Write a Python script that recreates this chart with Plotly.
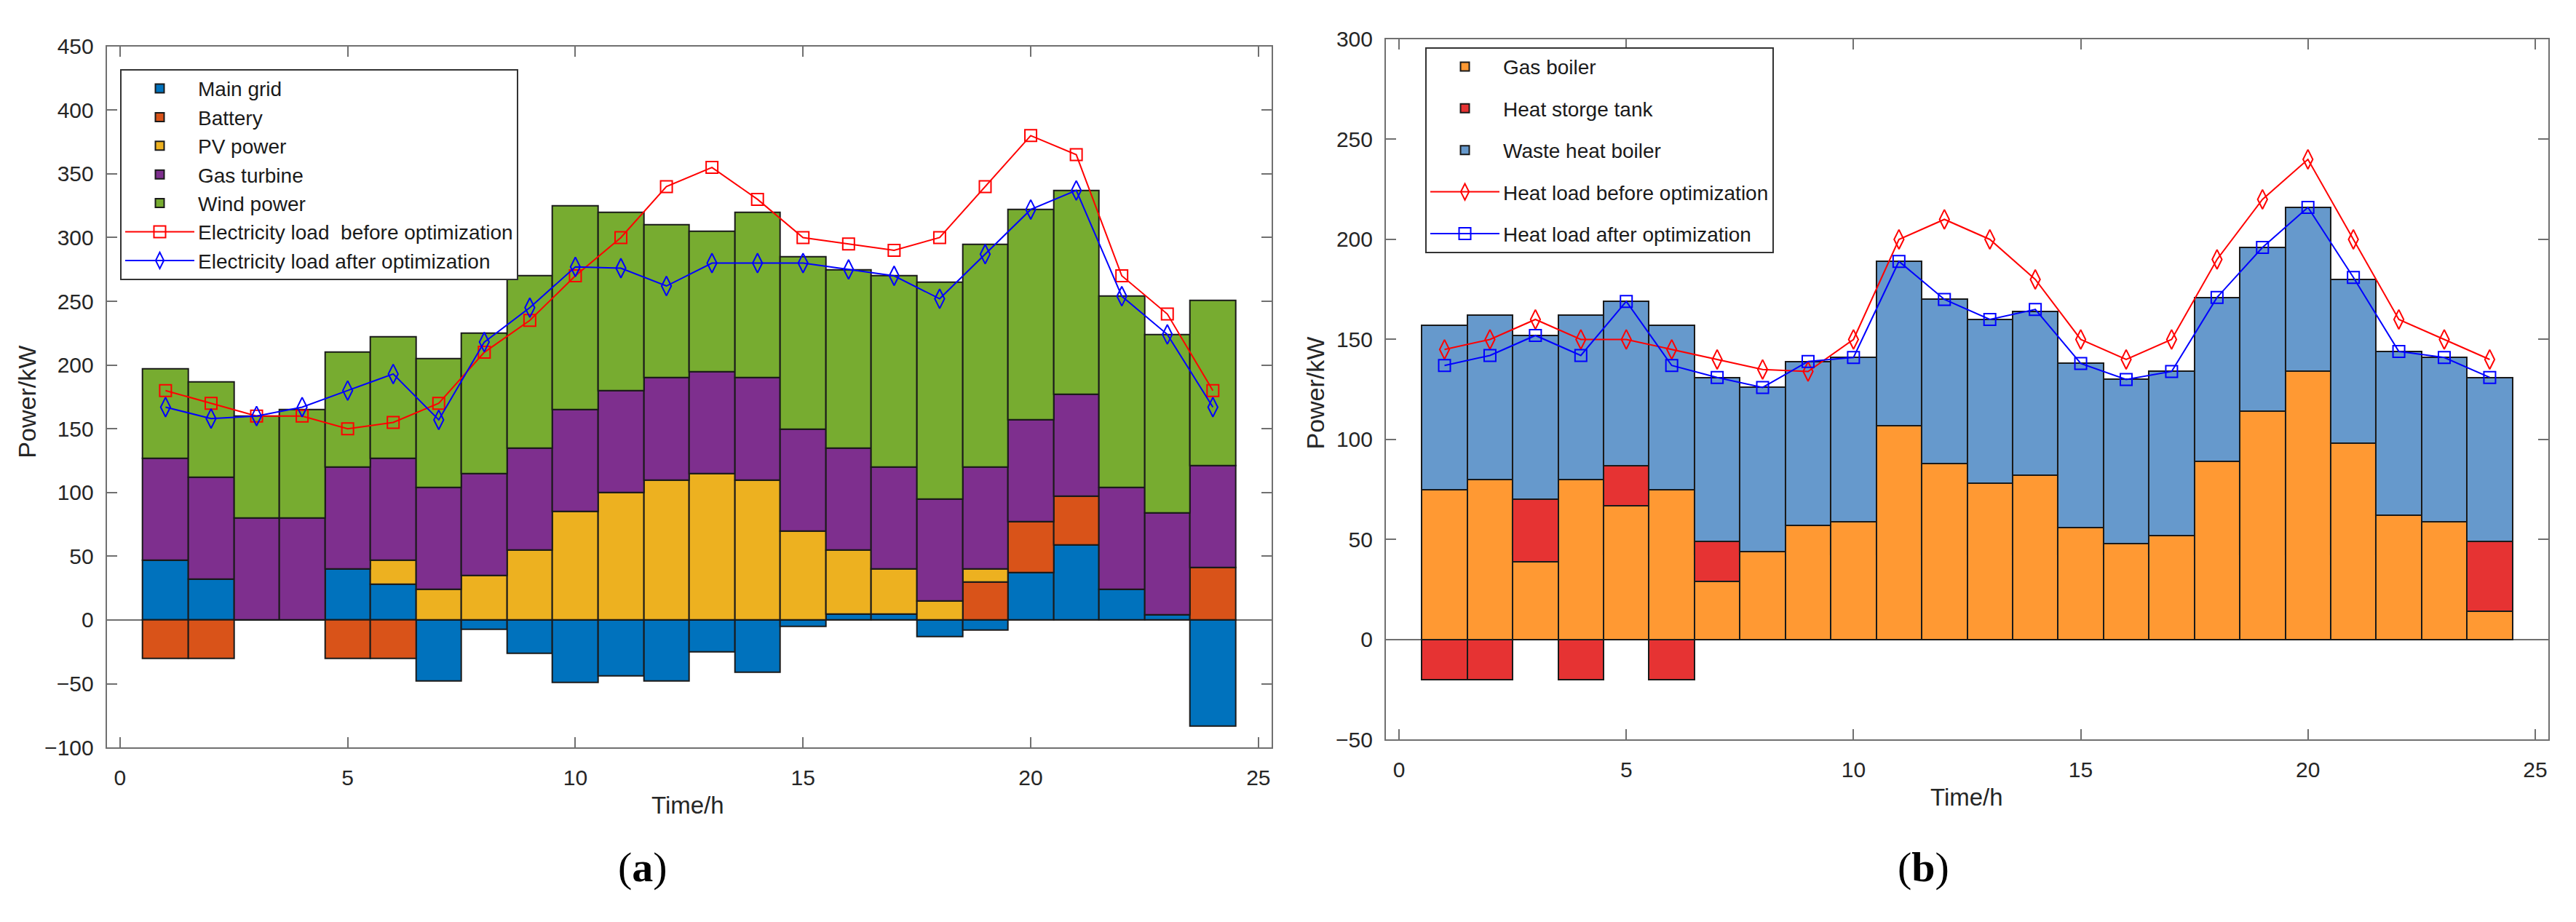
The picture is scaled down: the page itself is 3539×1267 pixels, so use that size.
import plotly.graph_objects as go

hours = list(range(1, 25))

# (a) electric power balance, kW
main_grid = [47, 32, 0, 0, 40, 28, -48, -7, -26, -49, -44, -48, -25, -41, -5, 5, 5, -13, -8, 37, 59, 24, 4, -83]
battery = [-30, -30, 0, 0, -30, -30, 0, 0, 0, 0, 0, 0, 0, 0, 0, 0, 0, 0, 30, 40, 38, 0, 0, 41]
pv_power = [0, 0, 0, 0, 0, 19, 24, 35, 55, 85, 100, 110, 115, 110, 70, 50, 35, 15, 10, 0, 0, 0, 0, 0]
gas_turbine = [80, 80, 80, 80, 80, 80, 80, 80, 80, 80, 80, 80, 80, 80, 80, 80, 80, 80, 80, 80, 80, 80, 80, 80]
wind_power = [70, 75, 80, 85, 90, 95, 101, 110, 135, 160, 140, 120, 110, 130, 135, 140, 150, 170, 175, 165, 160, 150, 140, 130]
elec_before = [180, 170, 160, 160, 150, 155, 170, 210, 235, 270, 300, 340, 355, 330, 300, 295, 290, 300, 340, 380, 365, 270, 240, 180]
elec_after = [167, 158, 160, 167, 180, 193, 157, 218, 245, 277, 276, 262, 280, 280, 280, 275, 270, 252, 287, 322, 337, 254, 224, 167]

# (b) heat power balance, kW
gas_boiler = [75, 80, 39, 80, 67, 75, 29, 44, 57, 59, 107, 88, 78, 82, 56, 48, 52, 89, 114, 134, 98, 62, 59, 14]
heat_storage = [-20, -20, 31, -20, 20, -20, 20, 0, 0, 0, 0, 0, 0, 0, 0, 0, 0, 0, 0, 0, 0, 0, 0, 35]
waste_heat = [82, 82, 82, 82, 82, 82, 82, 82, 82, 82, 82, 82, 82, 82, 82, 82, 82, 82, 82, 82, 82, 82, 82, 82]
heat_before = [145, 150, 160, 150, 150, 145, 140, 135, 134, 150, 200, 210, 200, 180, 150, 140, 150, 190, 220, 240, 200, 160, 150, 140]
heat_after = [137, 142, 152, 142, 169, 137, 131, 126, 139, 141, 189, 170, 160, 165, 138, 130, 134, 171, 196, 216, 181, 144, 141, 131]

FONT = 'Liberation Sans, Arial, sans-serif'
SERIF = 'Liberation Serif, Times New Roman, serif'
EDGE = dict(color='#1a1a1a', width=2)

fig = go.Figure()

left_bars = [('Main grid', main_grid, '#0072BD'), ('Battery', battery, '#D95319'),
             ('PV power', pv_power, '#EDB120'), ('Gas turbine', gas_turbine, '#7E2F8E'),
             ('Wind power', wind_power, '#77AC30')]
for name, vals, col in left_bars:
    fig.add_trace(go.Bar(x=hours, y=vals, name=name, width=1, marker=dict(color=col, line=EDGE),
                         xaxis='x', yaxis='y', legend='legend'))
fig.add_trace(go.Scatter(x=hours, y=elec_before, mode='lines+markers',
                         name='Electricity load \u00a0before optimization',
                         line=dict(color='#FF0000', width=2),
                         marker=dict(symbol='square-open', size=16, color='#FF0000', line=dict(width=2)),
                         xaxis='x', yaxis='y', legend='legend'))
fig.add_trace(go.Scatter(x=hours, y=elec_after, mode='lines+markers',
                         name='Electricity load after optimization',
                         line=dict(color='#0000FF', width=2),
                         marker=dict(symbol='diamond-tall-open', size=19, color='#0000FF', line=dict(width=2)),
                         xaxis='x', yaxis='y', legend='legend'))

right_bars = [('Gas boiler', gas_boiler, '#FF9933'), ('Heat storge tank', heat_storage, '#E63333'),
              ('Waste heat boiler', waste_heat, '#6699CC')]
for name, vals, col in right_bars:
    fig.add_trace(go.Bar(x=hours, y=vals, name=name, width=1, marker=dict(color=col, line=EDGE),
                         xaxis='x2', yaxis='y2', legend='legend2', legendgroup=name))
fig.add_trace(go.Scatter(x=hours, y=heat_before, mode='lines+markers',
                         name='Heat load before optimization', legendgroup='hb',
                         line=dict(color='#FF0000', width=2),
                         marker=dict(symbol='diamond-tall-open', size=19, color='#FF0000', line=dict(width=2)),
                         xaxis='x2', yaxis='y2', legend='legend2'))
fig.add_trace(go.Scatter(x=hours, y=heat_after, mode='lines+markers',
                         name='Heat load after optimization', legendgroup='ha',
                         line=dict(color='#0000FF', width=2),
                         marker=dict(symbol='square-open', size=16, color='#0000FF', line=dict(width=2)),
                         xaxis='x2', yaxis='y2', legend='legend2'))

axis_style = dict(showline=True, linecolor='#707070', linewidth=2, mirror='ticks',
                  ticks='inside', ticklen=14, tickwidth=2, tickcolor='#707070',
                  showgrid=False, tickfont=dict(family=FONT, size=30, color='#262626'))


def label(text, x, y, size, family=FONT, angle=0, color='#262626'):
    return dict(text=text, x=x, y=y, xref='paper', yref='paper', showarrow=False,
                xanchor='center', yanchor='middle', textangle=angle,
                font=dict(family=family, size=size, color=color))


fig.update_layout(
    width=3539, height=1267,
    margin=dict(l=0, r=0, t=0, b=0),
    paper_bgcolor='white', plot_bgcolor='white',
    font=dict(family=FONT, color='#262626'),
    barmode='relative', bargap=0,
    xaxis=dict(domain=[0.04145, 0.49364], range=[-0.29, 25.29], tickvals=[0, 5, 10, 15, 20, 25],
               zeroline=False, anchor='y', ticklabelstandoff=14, **axis_style),
    yaxis=dict(domain=[0.18074, 0.96212], range=[-100, 450], dtick=50, anchor='x',
               zeroline=True, zerolinecolor='#707070', zerolinewidth=2, ticklabelstandoff=10, **axis_style),
    xaxis2=dict(domain=[0.538, 0.98926], range=[-0.29, 25.29], tickvals=[0, 5, 10, 15, 20, 25],
                zeroline=False, anchor='y2', ticklabelstandoff=14, **axis_style),
    yaxis2=dict(domain=[0.18942, 0.97001], range=[-50, 300], dtick=50, anchor='x2',
                zeroline=True, zerolinecolor='#707070', zerolinewidth=2, ticklabelstandoff=10, **axis_style),
    legend=dict(x=0.04662, y=0.9369, xanchor='left', yanchor='top', bgcolor='white',
                bordercolor='#333333', borderwidth=2, traceorder='normal', itemwidth=95,
                font=dict(family=FONT, size=28, color='#1a1a1a')),
    legend2=dict(x=0.55327, y=0.96133, xanchor='left', yanchor='top', bgcolor='white',
                 bordercolor='#333333', borderwidth=2, traceorder='grouped', tracegroupgap=18, itemwidth=95,
                 font=dict(family=FONT, size=28, color='#1a1a1a')),
    annotations=[
        label('Time/h', 0.2670, 0.1160, 33),
        label('Time/h', 0.7635, 0.1255, 33),
        label('Power/kW', 0.0106, 0.5660, 34, angle=-90),
        label('Power/kW', 0.5106, 0.5754, 34, angle=-90),
        label('(<b>a</b>)', 0.2495, 0.0474, 58, family=SERIF, color='black'),
        label('(<b>b</b>)', 0.7468, 0.0474, 58, family=SERIF, color='black'),
    ],
)

fig.write_html("out.html", config={'displayModeBar': False},
               post_script="document.body.style.margin='0';")
